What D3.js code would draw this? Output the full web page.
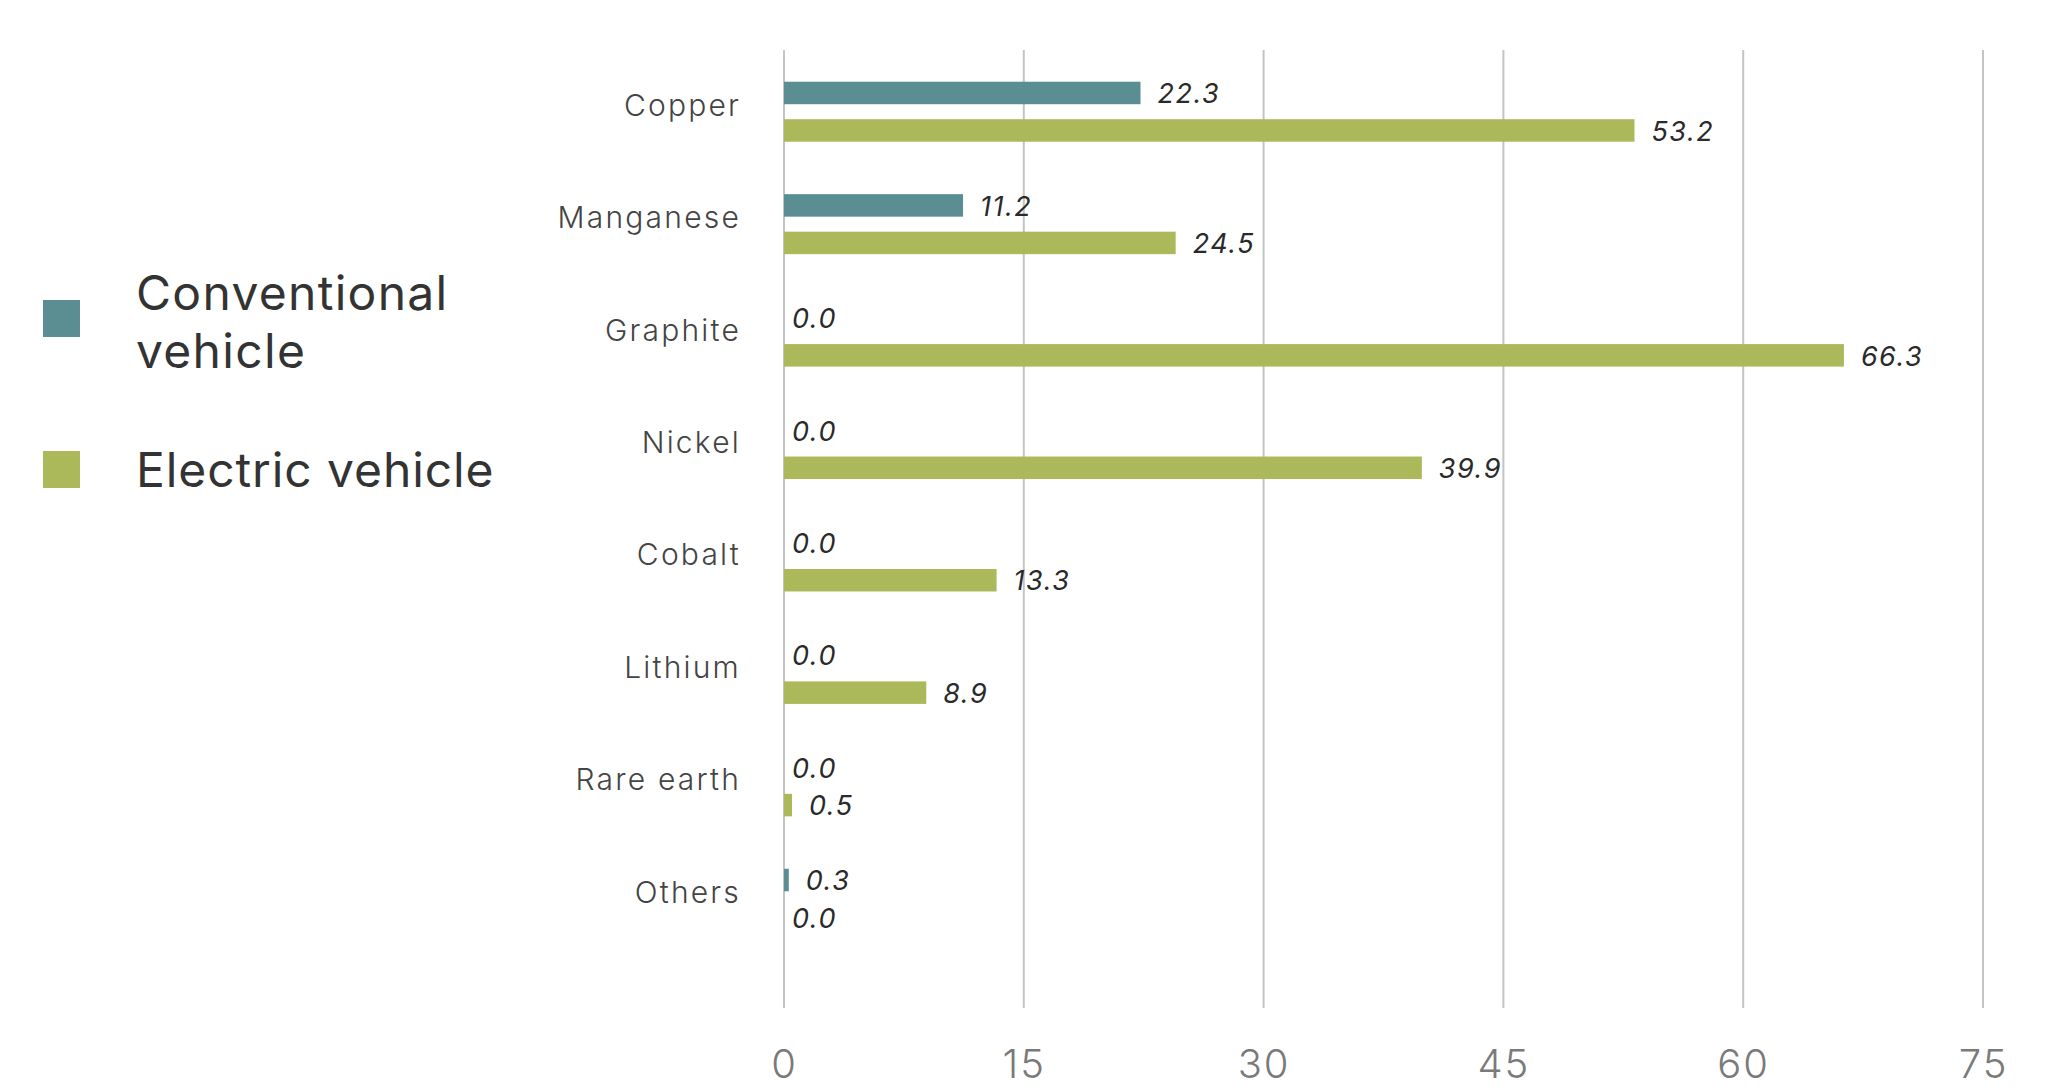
<!DOCTYPE html>
<html>
<head>
<meta charset="utf-8">
<script src="https://cdn.jsdelivr.net/npm/d3@7"></script>
<style>
  body { margin: 0; background: #fff; }
  text { font-family: "Inter", "Open Sans", sans-serif; }
</style>
</head>
<body>
<div id="chart"></div>
<script>
// data
const minerals = ["Copper", "Manganese", "Graphite", "Nickel", "Cobalt", "Lithium", "Rare earth", "Others"];
const conventional = [22.3, 11.2, 0.0, 0.0, 0.0, 0.0, 0.0, 0.3];
const electric = [53.2, 24.5, 66.3, 39.9, 13.3, 8.9, 0.5, 0.0];
const seriesNames = ["Conventional vehicle", "Electric vehicle"];
const xTicks = [0, 15, 30, 45, 60, 75];

const colors = ["#5a8e93", "#abb95a"];

const W = 2050, H = 1090;

// plot area
const plot = {left: 784, right: 1983, top: 50, bottom: 1008};
const bandTop = 55.5, bandBottom = 955;

const x = d3.scaleLinear().domain([0, 75]).range([plot.left, plot.right]);
const y = d3.scaleBand().domain(minerals).range([bandTop, bandBottom]).padding(0);
const inner = d3.scaleBand()
                .domain([0, 1])
                .range([y.bandwidth() / 2 - 30, y.bandwidth() / 2 + 30])
                .paddingInner(0.4);

var svg = d3.select("#chart").append("svg")
            .attr("width", W)
            .attr("height", H);

// gridlines
svg.append("g")
   .selectAll("line")
   .data(xTicks)
   .enter().append("line")
   .attr("x1", d => x(d)).attr("x2", d => x(d))
   .attr("y1", plot.top).attr("y2", plot.bottom)
   .attr("stroke", "#c4c4c4")
   .attr("stroke-width", 2);

// x tick labels
const xAxis = svg.append("g")
   .attr("transform", "translate(0," + plot.bottom + ")")
   .call(d3.axisBottom(x).tickValues(xTicks).tickSize(0).tickPadding(42));
xAxis.select(".domain").remove();
xAxis.selectAll("text")
     .attr("font-size", 40)
     .attr("font-weight", 300)
     .attr("letter-spacing", 2)
     .attr("fill", "#7a7a7a")
     .style("font-family", "Inter, 'Open Sans', sans-serif");

// category labels
svg.append("g")
   .selectAll("text")
   .data(minerals)
   .enter().append("text")
   .attr("x", 741)
   .attr("y", d => y(d) + y.bandwidth() / 2 + 4)
   .attr("text-anchor", "end")
   .attr("font-size", 30)
   .attr("font-weight", 300)
   .attr("letter-spacing", 2.2)
   .attr("fill", "#444")
   .text(d => d);

// bars
const rows = [];
minerals.forEach((m, i) => {
  rows.push({cat: m, s: 0, v: conventional[i]});
  rows.push({cat: m, s: 1, v: electric[i]});
});

svg.append("g")
   .selectAll("rect")
   .data(rows.filter(d => d.v > 0))
   .enter().append("rect")
   .attr("x", x(0))
   .attr("y", d => y(d.cat) + inner(d.s))
   .attr("width", d => x(d.v) - x(0))
   .attr("height", inner.bandwidth())
   .attr("fill", d => colors[d.s]);

// value labels
svg.append("g")
   .selectAll("text")
   .data(rows)
   .enter().append("text")
   .attr("x", d => x(d.v) + (d.v > 0 ? 17 : 8))
   .attr("y", d => y(d.cat) + inner(d.s) + inner.bandwidth() - 1)
   .attr("font-size", 27)
   .attr("font-style", "italic")
   .attr("letter-spacing", 1.5)
   .attr("fill", "#2a2a2a")
   .text(d => d.v.toFixed(1));

// legend
const legend = svg.append("g");
legend.selectAll("rect")
      .data([300, 451])
      .enter().append("rect")
      .attr("x", 43)
      .attr("y", d => d)
      .attr("width", 37)
      .attr("height", 37)
      .attr("fill", (d, i) => colors[i]);

const legendText = [
  {t: "Conventional", y: 310, ls: 1.3},
  {t: "vehicle", y: 368, ls: 1.3},
  {t: seriesNames[1], y: 487, ls: 0.9}
];
legend.selectAll("text")
      .data(legendText)
      .enter().append("text")
      .attr("x", 136)
      .attr("y", d => d.y)
      .attr("font-size", 48)
      .attr("letter-spacing", d => d.ls)
      .attr("fill", "#333")
      .text(d => d.t);
</script>
</body>
</html>
